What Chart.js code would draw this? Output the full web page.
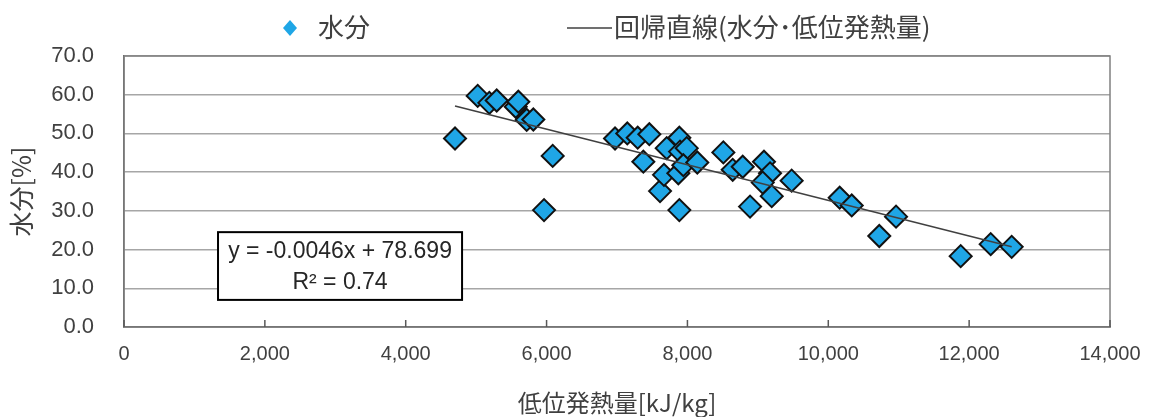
<!DOCTYPE html>
<html>
<head>
<meta charset="utf-8">
<script src="https://cdn.jsdelivr.net/npm/chart.js@4/dist/chart.umd.min.js"></script>
<style>
  html, body { margin: 0; padding: 0; background: #fff; }
  #wrap { width: 1157px; height: 417px; }
</style>
</head>
<body>
<div id="wrap"><canvas id="chart"></canvas></div>
<script>
// low heating value [kJ/kg] and moisture [%]
const heatValues = [
  4700, 5022, 5187, 5292, 5562, 5599, 5718, 5812, 5964, 6087,
  6972, 7146, 7294, 7459, 7374, 7611, 7667, 7706, 7885, 7895,
  7990, 7871, 7942, 8140, 7885, 8510, 8643, 8785, 8889, 9087,
  9173, 9069, 9197, 9480, 10162, 10333, 10724, 10962, 11880, 12306,
  12604
];
const moistureValues = [
  48.7, 59.7, 57.9, 58.5, 56.9, 58.2, 53.5, 53.6, 30.2, 44.2,
  48.7, 50.0, 48.9, 49.8, 42.7, 35.1, 39.3, 46.2, 48.9, 45.3,
  46.2, 39.7, 41.8, 42.5, 30.2, 45.1, 40.6, 41.4, 31.1, 42.7,
  39.7, 37.3, 33.8, 37.8, 33.4, 31.4, 23.5, 28.5, 18.3, 21.4,
  20.7
];
const xTickValues = [0, 2000, 4000, 6000, 8000, 10000, 12000, 14000];
const yTickValues = [0, 10, 20, 30, 40, 50, 60, 70];

const slope = -0.0046;
const intercept = 78.699;
const legendLabels = ['水分', '回帰直線(水分･低位発熱量)'];
const equationLines = ['y = -0.0046x + 78.699', 'R² = 0.74'];
const xTitle = '低位発熱量[kJ/kg]';
const yTitle = '水分[%]';

// equation box corners in data units
const boxX = [1335, 4800];
const boxY = [24.5, 7.0];

const points = heatValues.map((x, i) => ({ x, y: moistureValues[i] }));
const xMin = Math.min(...heatValues);
const xMax = Math.max(...heatValues);
const trend = [
  { x: xMin, y: slope * xMin + intercept },
  { x: xMax, y: slope * xMax + intercept }
];

const numFont = "'Liberation Sans', Arial, sans-serif";
const cjkFont = "'Noto Sans CJK JP', sans-serif";
const fillBlue = '#1fa6e6';

const framePlugin = {
  id: 'frame',
  beforeDatasetsDraw(chart) {
    const { ctx, chartArea: a, scales } = chart;
    ctx.save();
    ctx.strokeStyle = '#808080';
    ctx.lineWidth = 1.5;
    ctx.strokeRect(a.left, a.top, a.right - a.left, a.bottom - a.top);
    // small inner tick marks on the x axis
    ctx.strokeStyle = '#595959';
    xTickValues.forEach(v => {
      const px = scales.x.getPixelForValue(v);
      ctx.beginPath();
      ctx.moveTo(px, a.bottom);
      ctx.lineTo(px, a.bottom - 7);
      ctx.stroke();
    });
    ctx.restore();
  },
  afterDatasetsDraw(chart) {
    const { ctx, scales } = chart;
    const l = scales.x.getPixelForValue(boxX[0]);
    const r = scales.x.getPixelForValue(boxX[1]);
    const t = scales.y.getPixelForValue(boxY[0]);
    const b = scales.y.getPixelForValue(boxY[1]);
    ctx.save();
    ctx.fillStyle = '#fff';
    ctx.fillRect(l, t, r - l, b - t);
    ctx.strokeStyle = '#000';
    ctx.lineWidth = 2;
    ctx.strokeRect(l, t, r - l, b - t);
    ctx.fillStyle = '#262626';
    ctx.font = `23px ${numFont}`;
    ctx.textAlign = 'center';
    ctx.textBaseline = 'middle';
    const cx = (l + r) / 2;
    ctx.fillText(equationLines[0], cx, t + 20);
    ctx.fillText(equationLines[1], cx, t + 51);
    ctx.restore();
  },
  afterDraw(chart) {
    const { ctx } = chart;
    ctx.save();
    // legend: diamond marker
    ctx.fillStyle = fillBlue;
    ctx.beginPath();
    ctx.moveTo(290, 20);
    ctx.lineTo(297, 28);
    ctx.lineTo(290, 36);
    ctx.lineTo(283, 28);
    ctx.closePath();
    ctx.fill();
    // legend: line sample
    ctx.strokeStyle = '#404040';
    ctx.lineWidth = 1.5;
    ctx.beginPath();
    ctx.moveTo(567, 28);
    ctx.lineTo(612, 28);
    ctx.stroke();
    ctx.fillStyle = '#404040';
    ctx.font = `26px ${cjkFont}`;
    ctx.textAlign = 'left';
    ctx.textBaseline = 'middle';
    ctx.fillText(legendLabels[0], 318, 27);
    ctx.fillText(legendLabels[1], 614, 27);
    ctx.restore();
  }
};

new Chart(document.getElementById('chart'), {
  type: 'scatter',
  data: {
    datasets: [
      {
        type: 'line',
        label: legendLabels[1],
        data: trend,
        borderColor: '#404040',
        borderWidth: 1.5,
        pointRadius: 0,
        fill: false,
        order: 0
      },
      {
        label: legendLabels[0],
        data: points,
        pointStyle: 'rectRot',
        pointRadius: 11,
        pointBackgroundColor: fillBlue,
        pointBorderColor: '#111',
        pointBorderWidth: 2,
        order: 1
      }
    ]
  },
  options: {
    responsive: true,
    maintainAspectRatio: false,
    animation: false,
    layout: { padding: { top: 56, right: 47, left: 0, bottom: 0 } },
    plugins: {
      legend: { display: false },
      tooltip: { enabled: false }
    },
    scales: {
      x: {
        type: 'linear',
        min: 0,
        max: 14000,
        afterBuildTicks: (s) => { s.ticks = xTickValues.map(v => ({ value: v })); },
        afterFit: (s) => { s.height = 90; },
        grid: { display: false, drawTicks: false },
        border: { display: true, color: '#595959', width: 1.5 },
        ticks: {
          padding: 15,
          color: '#404040',
          font: { family: numFont, size: 20 },
          maxRotation: 0,
          callback: (v) => v.toLocaleString('en-US')
        },
        title: {
          display: true,
          text: xTitle,
          color: '#404040',
          font: { family: cjkFont, size: 24 },
          padding: { top: 0, bottom: 0 }
        }
      },
      y: {
        min: 0,
        max: 70,
        afterBuildTicks: (s) => { s.ticks = yTickValues.map(v => ({ value: v })); },
        afterFit: (s) => { s.width = 124; },
        grid: { color: '#a6a6a6', lineWidth: 1.5, drawTicks: false },
        border: { display: true, color: '#595959', width: 1.5 },
        ticks: {
          padding: 30,
          color: '#404040',
          font: { family: numFont, size: 22 },
          callback: (v) => v.toFixed(1)
        },
        title: {
          display: true,
          text: yTitle,
          color: '#404040',
          font: { family: cjkFont, size: 25 },
          padding: { top: 6, bottom: 0 }
        }
      }
    }
  },
  plugins: [framePlugin]
});
</script>
</body>
</html>
